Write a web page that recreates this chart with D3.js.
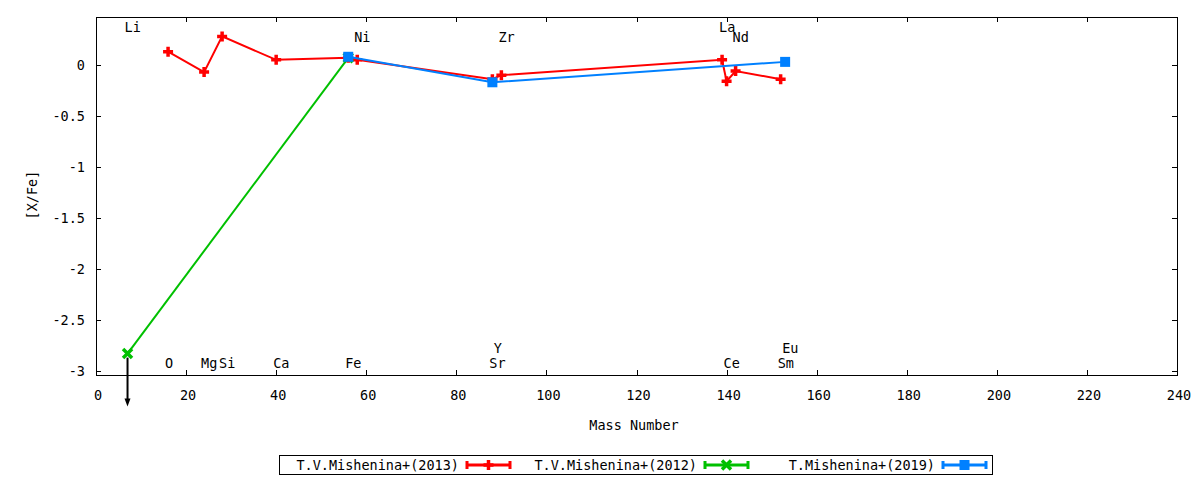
<!DOCTYPE html>
<html>
<head>
<meta charset="utf-8">
<script src="https://cdn.jsdelivr.net/npm/d3@7"></script>
<style>
  body { margin: 0; background: #fff; }
  svg { display: block; }
  text { font-family: "DejaVu Sans Mono", monospace; font-size: 13.5px; fill: #000; }
</style>
</head>
<body>
<svg id="chart" width="1200" height="480"></svg>
<script>
// T.V.Mishenina+(2013)
var redMass = [16, 24, 28, 40, 56, 58, 88, 90, 139, 140, 142, 152];
var redVal = [0.13, -0.07, 0.28, 0.05, 0.07, 0.05, -0.14, -0.10, 0.05, -0.16, -0.06, -0.14];
// T.V.Mishenina+(2012)
var greenMass = [7, 56];
var greenVal = [-2.83, 0.07];
// T.Mishenina+(2019)
var blueMass = [56, 88, 153];
var blueVal = [0.08, -0.17, 0.03];
// upper limit (Li)
var limitMass = [7];
var limitFrom = [-2.83];
var limitTo = [-3.35];

var elemName = ["Li", "O", "Mg", "Si", "Ca", "Fe", "Ni", "Sr", "Y", "Zr", "La", "Ce", "Nd", "Sm", "Eu"];
var elemMass = [7, 16, 24, 28, 40, 56, 58, 88, 89, 90, 139, 140, 142, 152, 153];
var elemY = [0.37, -2.92, -2.92, -2.92, -2.92, -2.92, 0.27, -2.92, -2.78, 0.27, 0.37, -2.92, 0.27, -2.92, -2.78];

var xTicks = d3.range(0, 241, 20);
var yTicks = [0, -0.5, -1, -1.5, -2, -2.5, -3];

var plotL = 96, plotR = 1177, plotT = 17, plotB = 375;

var svg = d3.select("#chart");
var x = d3.scaleLinear().domain([0, 240]).range([plotL, plotR]);
var y = d3.scaleLinear().domain([-3.04, 0.47]).range([plotB, plotT]);

// frame
svg.append("rect")
  .attr("x", plotL + 0.5).attr("y", plotT + 0.5)
  .attr("width", plotR - plotL).attr("height", plotB - plotT)
  .attr("fill", "none").attr("stroke", "#000").attr("stroke-width", 1);

// ticks, inward and mirrored
var tl = 5;
var g = svg.append("g").attr("stroke", "#000").attr("stroke-width", 1);
xTicks.forEach(function(t) {
  var px = Math.round(x(t)) + 0.5;
  g.append("line").attr("x1", px).attr("x2", px).attr("y1", plotB).attr("y2", plotB - tl);
  g.append("line").attr("x1", px).attr("x2", px).attr("y1", plotT).attr("y2", plotT + tl);
  svg.append("text").attr("x", x(t) + 2).attr("y", 395)
    .attr("text-anchor", "middle").attr("dominant-baseline", "central").text(t);
});
yTicks.forEach(function(t) {
  var py = Math.round(y(t)) + 0.5;
  g.append("line").attr("x1", plotL).attr("x2", plotL + tl).attr("y1", py).attr("y2", py);
  g.append("line").attr("x1", plotR).attr("x2", plotR - tl).attr("y1", py).attr("y2", py);
  svg.append("text").attr("x", 85).attr("y", y(t) + 0.5)
    .attr("text-anchor", "end").attr("dominant-baseline", "central").text(t);
});

// axis titles
svg.append("text").attr("x", 634).attr("y", 425)
  .attr("text-anchor", "middle").attr("dominant-baseline", "central").text("Mass Number");
svg.append("text").attr("transform", "translate(32,195) rotate(-90)")
  .attr("text-anchor", "middle").attr("dominant-baseline", "central").text("[X/Fe]");

// element labels
elemName.forEach(function(n, i) {
  svg.append("text").attr("x", x(elemMass[i]) - 3).attr("y", y(elemY[i]))
    .attr("dominant-baseline", "central").text(n);
});

var line = d3.line().x(function(d) { return x(d[0]); }).y(function(d) { return y(d[1]); });

function marker(sel, type, color, cx, cy) {
  if (type === "plus") {
    sel.append("path")
      .attr("d", "M" + (cx - 5) + "," + cy + "h10M" + cx + "," + (cy - 5) + "v10")
      .attr("stroke", color).attr("stroke-width", 3.5).attr("fill", "none");
  } else if (type === "cross") {
    sel.append("path")
      .attr("d", "M" + (cx - 4.5) + "," + (cy - 4.5) + "l9,9M" + (cx - 4.5) + "," + (cy + 4.5) + "l9,-9")
      .attr("stroke", color).attr("stroke-width", 3.5).attr("fill", "none");
  } else {
    sel.append("rect").attr("x", cx - 5).attr("y", cy - 5)
      .attr("width", 10).attr("height", 10).attr("fill", color);
  }
}

var series = [
  { name: "T.V.Mishenina+(2013)", mass: redMass, val: redVal, color: "#ff0000", type: "plus" },
  { name: "T.V.Mishenina+(2012)", mass: greenMass, val: greenVal, color: "#00c000", type: "cross" },
  { name: "T.Mishenina+(2019)", mass: blueMass, val: blueVal, color: "#0080ff", type: "square" }
];

series.forEach(function(s) {
  var pts = s.mass.map(function(m, i) { return [m, s.val[i]]; });
  svg.append("path").datum(pts).attr("d", line)
    .attr("fill", "none").attr("stroke", s.color).attr("stroke-width", 2);
  var mg = svg.append("g");
  pts.forEach(function(p) { marker(mg, s.type, s.color, x(p[0]), y(p[1])); });
});

// upper-limit arrows
limitMass.forEach(function(m, i) {
  var px = x(m), y0 = y(limitFrom[i]) + 4, y1 = y(limitTo[i]);
  svg.append("line").attr("x1", px).attr("x2", px).attr("y1", y0).attr("y2", y1 - 6)
    .attr("stroke", "#000").attr("stroke-width", 2);
  svg.append("path")
    .attr("d", "M" + (px - 3) + "," + (y1 - 8) + "L" + (px + 3) + "," + (y1 - 8) + "L" + px + "," + y1 + "Z")
    .attr("fill", "#000");
});

// legend
svg.append("rect").attr("x", 279.5).attr("y", 455.5).attr("width", 713).attr("height", 19)
  .attr("fill", "#fff").attr("stroke", "#000").attr("stroke-width", 1);
var legendX = [467, 705, 943];
series.forEach(function(s, i) {
  var sx = legendX[i], sy = 465;
  svg.append("text").attr("x", sx - 8).attr("y", sy)
    .attr("text-anchor", "end").attr("dominant-baseline", "central").text(s.name);
  svg.append("path")
    .attr("d", "M" + sx + "," + sy + "h43M" + sx + "," + (sy - 4) + "v8M" + (sx + 43) + "," + (sy - 4) + "v8")
    .attr("stroke", s.color).attr("stroke-width", 3).attr("fill", "none");
  marker(svg, s.type, s.color, sx + 21.5, sy);
});
</script>
</body>
</html>
